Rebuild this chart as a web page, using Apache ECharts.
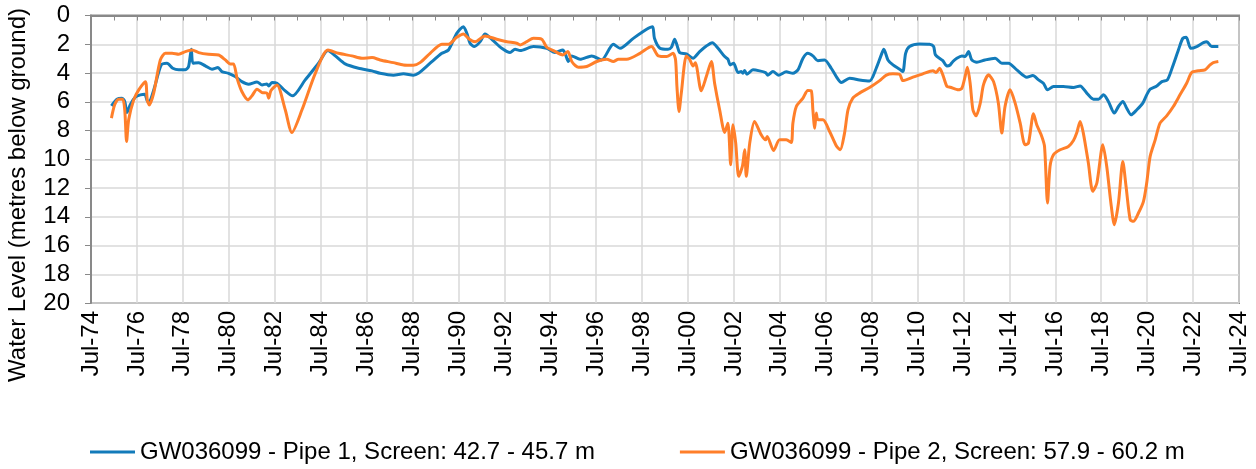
<!DOCTYPE html>
<html>
<head>
<meta charset="utf-8">
<script src="https://cdn.jsdelivr.net/npm/echarts@6/dist/echarts.min.js"></script>
<style>
html,body{margin:0;padding:0;background:#fff;}
#chart{width:1256px;height:469px;}
</style>
</head>
<body>
<div id="chart"></div>
<script>
// Decimal-year / water level (m below ground) pairs
const seriesNames = [
  'GW036099 - Pipe 1, Screen: 42.7 - 45.7 m',
  'GW036099 - Pipe 2, Screen: 57.9 - 60.2 m'
];
const pipe1 = [
[1975.39,6.28],[1975.63,5.82],[1975.85,5.75],[1975.97,5.98],[1976.07,6.75],[1976.21,6.2],[1976.43,5.68],[1976.65,5.52],[1976.84,5.47],[1976.94,5.9],[1977.02,6.05],[1977.23,5.2],[1977.56,3.44],[1977.81,3.32],[1978.06,3.67],[1978.32,3.78],[1978.61,3.78],[1978.75,3.55],[1978.87,2.35],[1978.94,3.32],[1979.19,3.28],[1979.48,3.5],[1979.77,3.74],[1980.03,3.62],[1980.2,3.9],[1980.49,4.02],[1980.78,4.25],[1981.07,4.6],[1981.36,4.78],[1981.73,4.62],[1981.95,4.83],[1982.16,4.76],[1982.24,4.9],[1982.38,4.66],[1982.6,4.71],[1982.96,5.24],[1983.28,5.59],[1983.83,4.48],[1984.41,3.32],[1984.82,2.44],[1985.14,2.81],[1985.57,3.37],[1986.15,3.67],[1986.74,3.85],[1987.09,4.02],[1987.67,4.15],[1988.11,4.06],[1988.54,4.15],[1988.76,4.02],[1989.27,3.32],[1989.78,2.63],[1990.07,2.4],[1990.43,1.24],[1990.72,0.78],[1990.87,1.24],[1991.01,1.93],[1991.2,2.16],[1991.45,1.82],[1991.66,1.28],[1992.03,1.77],[1992.39,2.28],[1992.75,2.58],[1992.97,2.35],[1993.19,2.44],[1993.77,2.16],[1994.35,2.28],[1994.71,2.58],[1995.05,2.4],[1995.15,2.63],[1995.29,3.2],[1995.44,2.81],[1995.8,3.04],[1996.31,2.81],[1996.74,3.09],[1997.25,2.0],[1997.54,2.28],[1998.12,1.59],[1998.7,0.96],[1998.96,0.78],[1999.04,1.59],[1999.28,2.28],[1999.63,2.35],[1999.78,2.21],[1999.92,1.65],[2000.02,2.05],[2000.14,2.58],[2000.43,2.67],[2000.72,2.97],[2001.01,2.51],[2001.3,2.12],[2001.56,1.89],[2001.81,2.28],[2002.1,2.86],[2002.24,3.04],[2002.34,3.44],[2002.49,3.32],[2002.68,3.97],[2002.82,3.9],[2002.89,4.02],[2002.97,3.83],[2003.07,4.09],[2003.33,3.78],[2003.62,3.85],[2003.88,3.97],[2003.98,4.15],[2004.2,3.9],[2004.46,4.15],[2004.78,3.92],[2005.07,4.02],[2005.29,3.78],[2005.51,2.97],[2005.72,2.63],[2005.94,2.81],[2006.16,3.14],[2006.45,3.09],[2006.74,3.67],[2006.96,4.25],[2007.18,4.66],[2007.54,4.36],[2007.97,4.48],[2008.41,4.55],[2008.7,3.67],[2008.92,2.74],[2009.03,2.35],[2009.21,3.09],[2009.43,3.44],[2009.72,3.74],[2009.86,3.9],[2009.98,2.63],[2010.15,2.16],[2010.59,1.98],[2011.02,2.0],[2011.2,2.16],[2011.28,2.74],[2011.6,3.14],[2011.78,3.51],[2011.92,3.44],[2012.04,3.2],[2012.21,2.97],[2012.43,2.81],[2012.57,2.86],[2012.72,2.51],[2012.86,3.09],[2013.08,3.25],[2013.44,3.09],[2013.88,2.97],[2014.17,3.32],[2014.46,3.32],[2014.82,3.78],[2015.26,4.29],[2015.52,4.18],[2015.77,4.48],[2015.98,4.71],[2016.16,5.17],[2016.42,4.94],[2016.85,4.94],[2017.29,5.01],[2017.58,4.9],[2017.87,5.4],[2018.16,5.82],[2018.38,5.82],[2018.6,5.52],[2018.81,5.98],[2019.07,6.79],[2019.25,6.33],[2019.44,5.98],[2019.61,6.45],[2019.8,6.91],[2020.05,6.56],[2020.31,6.1],[2020.48,5.52],[2020.63,5.13],[2020.92,4.9],[2021.14,4.6],[2021.38,4.48],[2021.61,3.55],[2021.86,2.4],[2022.05,1.59],[2022.2,1.52],[2022.4,2.28],[2022.66,2.16],[2022.95,1.89],[2023.1,1.82],[2023.31,2.16],[2023.6,2.16]
];
const pipe2 = [
[1975.39,7.14],[1975.53,6.21],[1975.7,5.82],[1975.88,5.82],[1975.97,6.56],[1976.05,8.76],[1976.14,7.26],[1976.36,5.87],[1976.58,5.17],[1976.87,4.6],[1976.95,5.87],[1977.04,6.22],[1977.23,5.4],[1977.52,3.09],[1977.74,2.63],[1978.03,2.63],[1978.32,2.7],[1978.61,2.51],[1978.9,2.4],[1979.19,2.58],[1979.62,2.7],[1980.06,2.75],[1980.35,3.09],[1980.57,3.37],[1980.71,3.37],[1980.86,4.36],[1981.07,5.29],[1981.34,5.87],[1981.51,5.59],[1981.73,5.13],[1981.95,5.36],[1982.16,5.4],[1982.24,5.75],[1982.34,5.22],[1982.6,4.83],[1982.96,6.56],[1983.25,8.14],[1983.69,6.56],[1984.27,4.02],[1984.82,2.4],[1985.28,2.63],[1985.86,2.81],[1986.3,2.98],[1986.74,2.93],[1987.09,3.09],[1987.67,3.28],[1988.11,3.44],[1988.54,3.46],[1988.83,3.28],[1989.27,2.63],[1989.78,2.0],[1990.07,2.0],[1990.43,1.52],[1990.72,1.28],[1990.98,1.65],[1991.23,1.82],[1991.66,1.42],[1992.17,1.65],[1992.61,1.82],[1993.04,1.93],[1993.19,2.05],[1993.48,1.82],[1993.77,1.59],[1994.13,1.65],[1994.35,2.21],[1994.64,2.44],[1995.05,2.74],[1995.27,2.51],[1995.44,3.2],[1995.73,3.6],[1996.09,3.55],[1996.53,3.2],[1996.96,3.04],[1997.25,3.2],[1997.47,3.04],[1997.83,3.04],[1998.41,2.63],[1998.91,2.16],[1999.21,2.81],[1999.57,2.86],[1999.85,2.63],[1999.96,3.09],[2000.02,4.94],[2000.11,6.68],[2000.21,5.4],[2000.43,2.81],[2000.57,3.04],[2000.72,3.51],[2000.82,3.28],[2001.08,5.24],[2001.3,4.25],[2001.52,3.2],[2001.66,4.71],[2001.88,6.56],[2002.1,8.14],[2002.24,7.49],[2002.36,10.38],[2002.46,7.6],[2002.58,8.88],[2002.71,11.19],[2002.87,10.5],[2002.97,9.34],[2003.04,11.19],[2003.19,8.88],[2003.4,7.37],[2003.69,8.3],[2003.88,8.65],[2003.95,8.41],[2004.23,9.39],[2004.49,8.65],[2004.78,8.65],[2005.0,8.83],[2005.07,7.49],[2005.22,6.33],[2005.51,5.75],[2005.72,5.22],[2005.87,5.24],[2005.94,6.56],[2006.02,7.84],[2006.09,6.79],[2006.16,7.26],[2006.38,7.26],[2006.67,8.07],[2006.96,9.06],[2007.13,9.34],[2007.32,8.18],[2007.47,6.56],[2007.68,5.75],[2007.97,5.4],[2008.41,5.01],[2008.85,4.53],[2009.14,4.15],[2009.43,4.06],[2009.72,4.09],[2009.86,4.53],[2010.3,4.29],[2010.73,4.06],[2011.17,3.85],[2011.31,3.97],[2011.46,3.67],[2011.6,4.13],[2011.78,4.94],[2011.92,4.99],[2012.28,5.17],[2012.43,5.06],[2012.57,4.25],[2012.67,3.6],[2012.79,4.71],[2012.91,6.56],[2013.05,6.98],[2013.23,6.1],[2013.37,4.83],[2013.59,4.13],[2013.81,4.6],[2014.02,6.1],[2014.17,8.18],[2014.31,6.33],[2014.53,5.17],[2014.75,6.1],[2014.97,7.49],[2015.18,8.99],[2015.33,8.88],[2015.55,6.84],[2015.69,7.6],[2015.91,8.41],[2016.03,9.11],[2016.16,13.04],[2016.27,10.5],[2016.42,9.69],[2016.71,9.34],[2017.07,9.11],[2017.29,8.69],[2017.43,8.18],[2017.58,7.37],[2017.72,8.18],[2017.94,10.27],[2018.13,12.23],[2018.31,11.65],[2018.57,8.99],[2018.74,10.5],[2018.92,13.04],[2019.07,14.55],[2019.25,13.04],[2019.44,10.15],[2019.58,11.88],[2019.76,14.2],[2019.9,14.32],[2020.12,13.74],[2020.34,12.93],[2020.48,11.65],[2020.63,9.8],[2020.85,8.65],[2021.06,7.49],[2021.35,6.98],[2021.64,6.33],[2021.93,5.52],[2022.22,4.71],[2022.44,3.97],[2022.73,3.85],[2023.02,3.78],[2023.24,3.44],[2023.38,3.28],[2023.6,3.2]
];
const xMin = 1974.5, xMax = 2024.5, xStep = 2;
const yMin = 0, yMax = 20, yStep = 2;
const yAxisTitle = 'Water Level (metres below ground)';

const FONT = '"Liberation Sans", Arial, sans-serif';
const FS = 24;
const AXIS_GREY = '#898989';
const chart = echarts.init(document.getElementById('chart'), null, {renderer: 'canvas'});
chart.setOption({
  animation: false,
  backgroundColor: '#fff',
  textStyle: {fontFamily: FONT},
  grid: {left: 91, right: 17, top: 15.5, bottom: 166, show: true, borderColor: AXIS_GREY, borderWidth: 2, backgroundColor: 'transparent'},
  legend: {
    left: 85, top: 435, itemWidth: 45, itemHeight: 3, itemGap: 85, icon: 'rect',
    textStyle: {fontFamily: FONT, fontSize: FS, color: '#000'},
    data: seriesNames
  },
  graphic: [{
    type: 'text', rotation: Math.PI/2, x: 18, y: 195,
    style: {text: yAxisTitle, font: FS + 'px ' + FONT, fill: '#000', textAlign: 'center', textVerticalAlign: 'middle'}
  }],
  xAxis: {
    type: 'value', min: xMin, max: xMax, interval: xStep,
    axisLine: {show: true, lineStyle: {color: AXIS_GREY, width: 2}},
    axisTick: {show: true, length: 5, lineStyle: {color: AXIS_GREY, width: 1}},
    minorTick: {show: true, splitNumber: 2, length: 5, lineStyle: {color: AXIS_GREY, width: 1}},
    splitLine: {show: true, lineStyle: {color: '#d9d9d9', width: 1.5}},
    axisLabel: {
      rotate: 90, fontSize: FS, color: '#000', fontFamily: FONT, margin: 8,
      formatter: v => 'Jul-' + String(Math.floor(Math.round(v*10)/10) % 100).padStart(2, '0')
    }
  },
  yAxis: {
    type: 'value', inverse: true, min: yMin, max: yMax, interval: yStep,
    axisLine: {show: true, lineStyle: {color: AXIS_GREY, width: 2}},
    axisTick: {show: true, length: 6, lineStyle: {color: AXIS_GREY, width: 1}},
    splitLine: {show: true, lineStyle: {color: '#d9d9d9', width: 1.5}},
    axisLabel: {fontSize: FS, color: '#000', fontFamily: FONT, margin: 21}
  },
  series: [
    {name: seriesNames[0], type: 'line', data: pipe1, symbol: 'none', smooth: 0.25,
     lineStyle: {color: '#127BBA', width: 3}, itemStyle: {color: '#127BBA'}},
    {name: seriesNames[1], type: 'line', data: pipe2, symbol: 'none', smooth: 0.25,
     lineStyle: {color: '#FF7F2A', width: 3}, itemStyle: {color: '#FF7F2A'}}
  ]
});
</script>
</body>
</html>
